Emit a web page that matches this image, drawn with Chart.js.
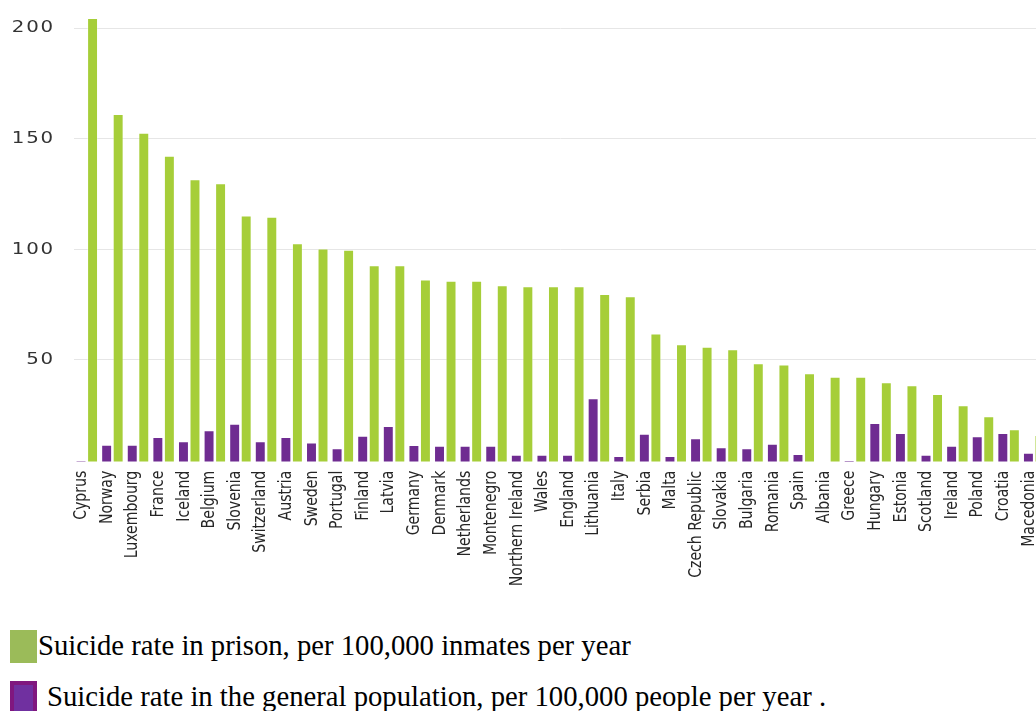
<!DOCTYPE html>
<html>
<head>
<meta charset="utf-8">
<script src="https://cdn.jsdelivr.net/npm/chart.js@4/dist/chart.umd.min.js"></script>
<style>
  html, body { margin: 0; padding: 0; background: #ffffff; overflow: hidden; width: 1036px; height: 711px; }
  #wrap { position: absolute; left: 0; top: -14px; width: 1060px; height: 614px; }
  .legend { position: absolute; left: 0; font-family: "Liberation Serif", "Times New Roman", serif; font-size: 28.7px; color: #000; white-space: nowrap; }
  .box1 { position: absolute; left: 10px; top: 630px; width: 27px; height: 33px; background: #9bbb59; }
  .txt1 { position: absolute; left: 38px; top: 628px; line-height: 34px; }
  .box2 { position: absolute; left: 10px; top: 681px; width: 19px; height: 26px; background: #7030a0; border: 4px solid #80177f; }
  .txt2 { position: absolute; left: 47px; top: 679px; line-height: 34px; }
</style>
</head>
<body>
<div id="wrap"><canvas id="c" width="1060" height="614"></canvas></div>
<div class="box1"></div>
<div class="legend txt1">Suicide rate in prison, per 100,000 inmates per year</div>
<div class="box2"></div>
<div class="legend txt2">Suicide rate in the general population, per 100,000 people per year .</div>
<script>
const categories = ["Cyprus","Norway","Luxembourg","France","Iceland","Belgium","Slovenia","Switzerland","Austria","Sweden","Portugal","Finland","Latvia","Germany","Denmark","Netherlands","Montenegro","Northern Ireland","Wales","England","Lithuania","Italy","Serbia","Malta","Czech Republic","Slovakia","Bulgaria","Romania","Spain","Albania","Greece","Hungary","Estonia","Scotland","Ireland","Poland","Croatia","Macedonia"];
const prisonRates = [204.6,161.2,152.7,142.3,131.7,129.8,115.3,114.7,102.7,100.3,99.8,92.8,92.8,86.3,85.8,85.8,83.7,83.3,83.3,83.3,79.8,78.8,61.9,57.0,55.9,54.8,48.4,47.9,43.9,42.3,42.3,39.8,38.5,34.5,29.4,24.5,18.6,16.0];
const populationRates = [4.6,11.6,11.6,15.1,13.2,18.1,21.1,13.2,15.1,12.6,10.0,15.6,20.1,11.5,11.1,11.1,11.1,7.0,7.0,7.0,32.6,6.5,16.5,6.5,14.5,10.5,10.0,12.0,7.4,null,4.7,21.4,16.9,7.0,11.1,15.4,16.9,8.0];
const yTicks = [50,100,150,200];
const seriesNames = ["Suicide rate in the general population, per 100,000 people per year .","Suicide rate in prison, per 100,000 inmates per year"];

const labelStyle = {
  id: 'labelStyle',
  beforeDraw(chart) {
    const s = chart.scales.y;
    if (!s._patched) {
      const orig = s.drawLabels;
      s.drawLabels = function(a) {
        const c = this.ctx;
        const ax = this.right - 19;
        c.save();
        c.translate(ax, 0); c.scale(1.2, 1); c.translate(-ax, 0);
        c.letterSpacing = '1.5px';
        orig.call(this, a);
        c.restore();
      };
      s._patched = true;
    }
    const x = chart.scales.x;
    if (!x._patched) {
      const origX = x.drawLabels;
      x.drawLabels = function(a) {
        const c = this.ctx;
        const y0 = this.top;
        c.save();
        c.translate(0, y0); c.scale(1, 0.92); c.translate(0, -y0);
        origX.call(this, a);
        c.restore();
      };
      x._patched = true;
    }
  }
};

new Chart(document.getElementById('c'), {
  type: 'bar',
  data: {
    labels: categories,
    datasets: [
      { label: seriesNames[0], data: populationRates, backgroundColor: '#6f2c91', borderColor: 'rgba(255,255,255,0.35)', borderWidth: 1, borderSkipped: 'start' },
      { label: seriesNames[1], data: prisonRates, backgroundColor: '#a6ce39', borderColor: 'rgba(255,255,255,0.35)', borderWidth: 1, borderSkipped: 'start' }
    ]
  },
  options: {
    responsive: false,
    animation: false,
    devicePixelRatio: 1,
    layout: { padding: { top: 0, right: 13, left: 0, bottom: 0 } },
    datasets: { bar: { categoryPercentage: 0.9, barPercentage: 0.95 } },
    plugins: { legend: { display: false }, tooltip: { enabled: false } },
    scales: {
      x: {
        grid: { display: false },
        border: { display: false },
        ticks: {
          autoSkip: false, maxRotation: 90, minRotation: 90, padding: 2, labelOffset: -5,
          color: '#262626',
          font: { family: '"DejaVu Sans Condensed", "Liberation Sans", sans-serif', size: 17 }
        },
        afterFit(scale) { scale.height = 138.5; }
      },
      y: {
        min: 4, max: 206,
        grid: { color: '#e6e6e6', lineWidth: 1, drawTicks: false },
        border: { display: false },
        afterBuildTicks(scale) { scale.ticks = yTicks.map(v => ({ value: v })); },
        afterFit(scale) { scale.width = 74; },
        ticks: {
          padding: 19,
          color: '#333333',
          font: { family: '"DejaVu Sans", sans-serif', size: 16.5 }
        }
      }
    }
  },
  plugins: [labelStyle]
});
</script>
</body>
</html>
